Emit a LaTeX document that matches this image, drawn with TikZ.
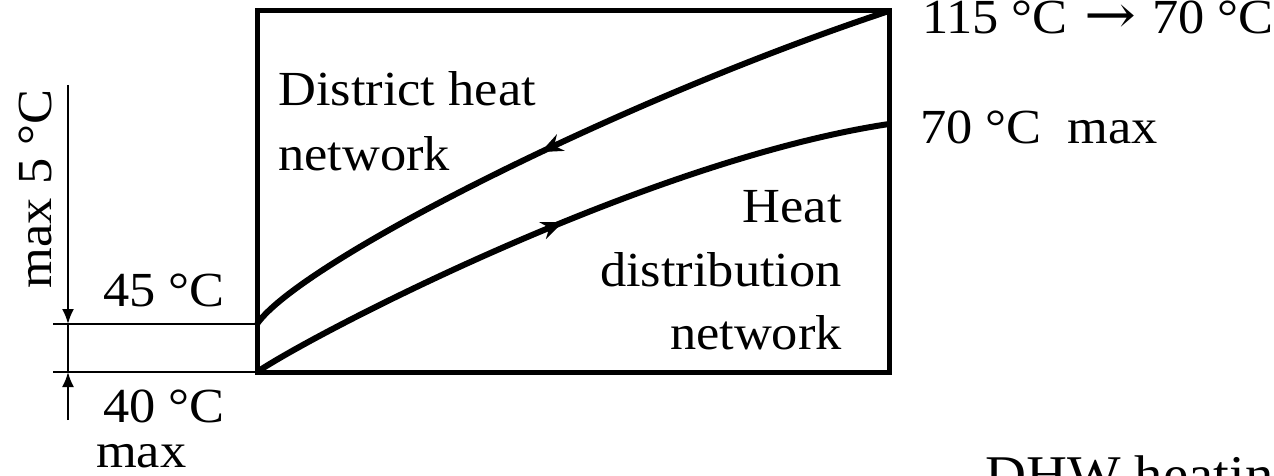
\documentclass[tikz,border=0pt]{standalone}
\usepackage{fontspec}
\setmainfont[FakeStretch=1.07]{Liberation Serif}
\newfontfamily\arrfont[FakeStretch=1.15]{DejaVu Serif}
\usetikzlibrary{arrows.meta,decorations.markings}
\tikzset{
  lbl/.style={inner sep=0pt, font=\fontsize{49}{64}\selectfont},
  boxline/.style={line width=5pt},
  flow/.style={line width=6pt},
  thin/.style={line width=2pt},
  dimtip/.style={-{Latex[length=15pt,width=12pt]}},
  fwd/.style={postaction={decorate},decoration={markings,
     mark=at position #1 with {\arrow{Stealth[length=22pt,width=18pt]}}}},
  bwd/.style={postaction={decorate},decoration={markings,
     mark=at position #1 with {\arrowreversed{Stealth[length=22pt,width=18pt]}}}},
}
\begin{document}
\begin{tikzpicture}[x=1pt,y=-1pt]
\useasboundingbox (0,0) rectangle (1274,476);
% box corners
\coordinate (tl) at (257,11);
\coordinate (br) at (889,372);
\coordinate (bl) at (257,372);
\coordinate (tr) at (889,11);
\coordinate (hot) at (257,324);
\coordinate (rend) at (889,124);
\draw[boxline] (tl) rectangle (br);
% curves
\draw[flow, bwd=0.47] (hot) .. controls (300,262) and (620,100) .. (tr);
\draw[flow, fwd=0.5] (bl) .. controls (320,330) and (650,160) .. (rend);
% dimension lines
\coordinate (e45) at (53,324);
\coordinate (e40) at (53,372);
\coordinate (d45) at (68,324);
\coordinate (d40) at (68,372);
\coordinate (dtop) at (68,85);
\coordinate (dbot) at (68,420);
\draw[thin] (e45) -- (hot);
\draw[thin] (e40) -- (bl);
\draw[thin, dimtip] (dtop) -- (d45);
\draw[thin] (d45) -- (d40);
\draw[thin, dimtip] (dbot) -- (d40);
% labels
\node[lbl, rotate=90, anchor=base] (max5) at (51,189) {max 5 °C};
\node[lbl, anchor=base west] (t45) at (103,306) {45 °C};
\node[lbl, anchor=base west] (t40) at (103,422) {40 °C};
\node[lbl, anchor=base west] (tmax) at (96,467) {max};
\node[lbl, anchor=base west] (dh1) at (278,106) {District heat};
\node[lbl, anchor=base west] (dh2) at (278,170) {network};
\node[lbl, anchor=base east] (hd1) at (842,222) {Heat};
\node[lbl, anchor=base east] (hd2) at (842,286) {distribution};
\node[lbl, anchor=base east] (hd3) at (842,349) {network};
\node[lbl, anchor=base west] (t115) at (922,34) {115 °C\ \hspace{3pt}{\arrfont\fontsize{54}{64}\selectfont →}\hspace{3pt}\ 70 °C};
\node[lbl, anchor=base west] (t70) at (920,143) {70 °C\ \ max};
\node[lbl, anchor=base west, font=\fontsize{53}{64}\selectfont] (dhw) at (985,492) {DHW heatin};
\end{tikzpicture}
\end{document}
